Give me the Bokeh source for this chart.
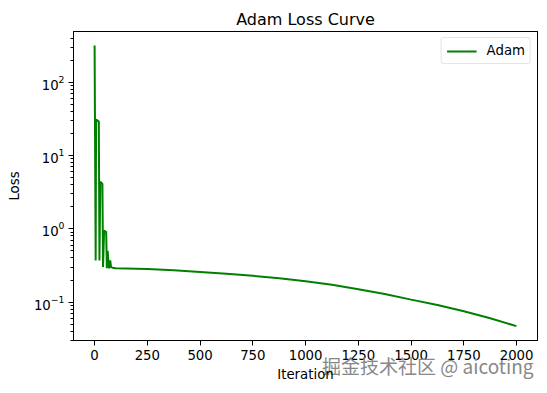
from bokeh.plotting import figure
from bokeh.models import Range1d, FixedTicker, Legend, LegendItem, LinearAxis, Title
from bokeh.embed import file_html
from bokeh.resources import INLINE

# Data
iterations = [0, 5, 7, 20, 23, 27, 37, 40, 45, 55, 58, 62, 67, 70, 74, 78, 85, 100,
              250, 375, 500, 625, 750, 875, 1000, 1125, 1250, 1375, 1500, 1625, 1750, 1875, 1999]
loss = [316, 0.37, 31, 29, 0.37, 4.4, 4.1, 0.30, 0.95, 0.90, 0.29, 0.50, 0.30, 0.29, 0.37, 0.30, 0.295, 0.29,
        0.283, 0.272, 0.258, 0.243, 0.228, 0.212, 0.193, 0.172, 0.150, 0.129, 0.108, 0.091, 0.075, 0.060, 0.047]
x_ticks = [0, 250, 500, 750, 1000, 1250, 1500, 1750, 2000]

FONT = "DejaVu Sans"
FS = "13.3px"

p = figure(width=547, height=393, y_axis_type="log",
           x_range=Range1d(-100, 2099), y_range=Range1d(0.0299, 492),
           output_backend="svg", toolbar_location=None,
           title="Adam Loss Curve",
           min_border_left=73, min_border_right=10, min_border_top=31, min_border_bottom=53)

xb = p.below[0]
yl = p.left[0]

r = p.line(iterations, loss, line_color="#008000", line_width=2)

p.title.align = "center"
p.title.text_font = FONT
p.title.text_font_size = "16px"
p.title.text_font_style = "normal"
p.title.text_color = "black"
p.title.standoff = 6

p.grid.visible = False
p.outline_line_color = "black"
p.background_fill_color = "white"
p.border_fill_color = "white"

# frame lines on top and right
for place in ("above", "right"):
    ax = LinearAxis(ticker=FixedTicker(ticks=[]), axis_line_color="black",
                    major_tick_line_color=None, minor_tick_line_color=None,
                    major_tick_out=0, minor_tick_out=0, major_tick_in=0, minor_tick_in=0,
                    major_label_standoff=0)
    p.add_layout(ax, place)

for ax in (xb, yl):
    ax.axis_line_color = "black"
    ax.major_tick_in = 0
    ax.major_tick_out = 5
    ax.minor_tick_in = 0
    ax.minor_tick_out = 3
    ax.major_label_text_font = FONT
    ax.major_label_text_font_size = FS
    ax.major_label_text_color = "black"
    ax.axis_label_text_font = FONT
    ax.axis_label_text_font_size = FS
    ax.axis_label_text_font_style = "normal"
    ax.axis_label_text_color = "black"
    ax.major_tick_line_color = "black"
    ax.minor_tick_line_color = "black"

xb.ticker = FixedTicker(ticks=x_ticks)
xb.major_label_standoff = 4
yl.axis_label = "Loss"
yl.major_label_standoff = 4
yl.axis_label_standoff = 9

legend = Legend(items=[LegendItem(label="Adam", renderers=[r])], location="top_right")
legend.label_text_font = FONT
legend.label_text_font_size = FS
legend.label_text_color = "black"
legend.glyph_width = 30
legend.glyph_height = 14
legend.label_height = 14
legend.label_standoff = 10
legend.border_line_color = "#cccccc"
legend.border_line_width = 1
legend.margin = 6
legend.padding = 5
legend.spacing = 0
legend.background_fill_alpha = 0.8
try:
    legend.border_radius = 3
except Exception:
    pass
p.add_layout(legend)

# watermark text (outside the frame, so placed in the bottom panel, small height)
wm = Title(text="掘金技术社区 @ aicoting", align="right", vertical_align="middle",
           offset=4, standoff=-23.5, text_font="Noto Sans CJK SC", text_font_size="19px",
           text_font_style="normal", text_color="#888888")
p.add_layout(wm, "below")

# x axis label
xlab = Title(text="Iteration", align="center", vertical_align="middle",
             standoff=-5.5, text_font=FONT, text_font_size=FS,
             text_font_style="normal", text_color="black")
p.add_layout(xlab, "below")

open("out.html", "w").write(file_html(p, INLINE))
